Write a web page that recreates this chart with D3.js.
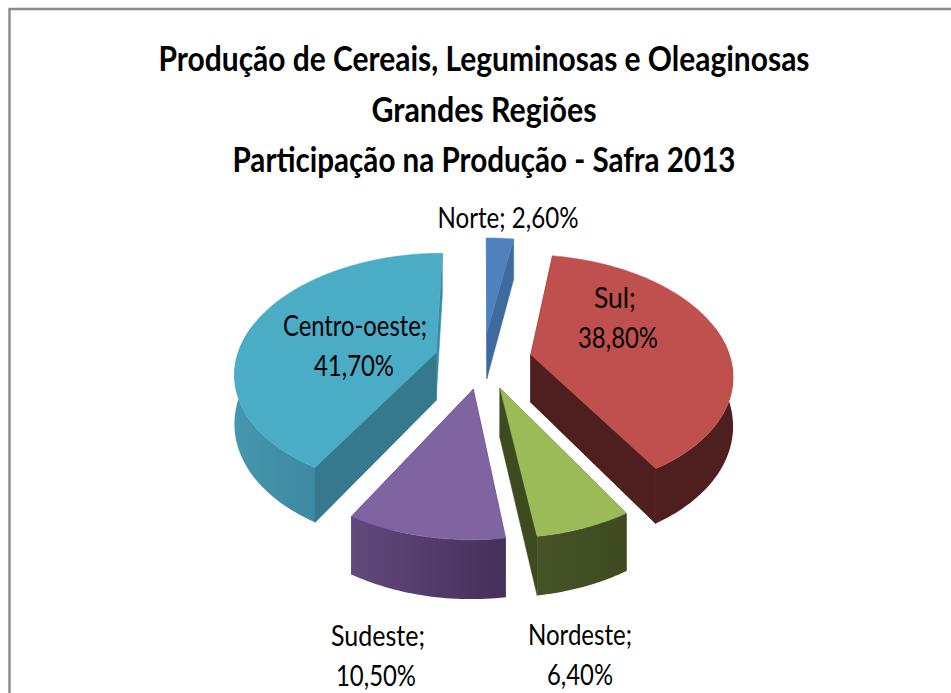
<!DOCTYPE html>
<html><head><meta charset="utf-8">
<style>html,body{margin:0;padding:0;background:#fff;overflow:hidden}svg{display:block}text{font-family:Lato,"Open Sans",sans-serif;fill:#000}</style>
<script src="https://cdn.jsdelivr.net/npm/d3@7/dist/d3.min.js"></script>
</head><body><div id="c"></div>
<script>
const titleLines = ["Produção de Cereais, Leguminosas e Oleaginosas","Grandes Regiões","Participação na Produção - Safra 2013"];
const regions = ["Norte","Sul","Nordeste","Sudeste","Centro-oeste"];
const shares = [2.6,38.8,6.4,10.5,41.7];
const shareLabels = ["2,60%","38,80%","6,40%","10,50%","41,70%"];
const topColors = ["#4f81bd","#c0504d","#9bbb59","#8064a2","#4bacc6"];
const wallFrom = ["#3f6a9e","#4e1f1e","#465326","#62487c","#4596ae"];
const wallTo = ["#3f6a9e","#4e1f1e","#3e4a20","#44305a","#3d8aa2"];
const cutColors = ["#4f81bd","#4e1f1e","#3e4a20","#44305a","#37798c"];
const endCutColors = ["#3f6a9e","#4e1f1e","#3e4a20","#44305a","#3f8aa2"];

const W=951,H=693;
const cx=483,cy=360,R=200,tilt=0.585,persp=0.155,depth=48,explode=49;
const svg=d3.select("#c").append("svg").attr("width",W).attr("height",H);
const defs=svg.append("defs");

svg.append("path").attr("d",d3.line()([[9.5,H],[9.5,9],[W,9]])).attr("fill","none").attr("stroke","#8a8a8a").attr("stroke-width",2.4);

const titleFmt=[{y:71,w:651},{y:122,w:225},{y:172,w:503}];
svg.selectAll("text.title").data(titleLines).join("text").attr("class","title")
  .attr("x",484).attr("y",(d,i)=>titleFmt[i].y).attr("text-anchor","middle")
  .attr("font-size",35).attr("font-weight",700)
  .attr("textLength",(d,i)=>titleFmt[i].w).attr("lengthAdjust","spacingAndGlyphs").text(d=>d);

const arcs=d3.pie().sort(null).startAngle(0).endAngle(2*Math.PI)(shares);
const line=d3.line();
const project=(gx,gy,z)=>{const s=1/(1-persp*gy/R);return [cx+gx*s,cy+(tilt*gy+z)*s];};
const slices=arcs.map((a,i)=>{
  const mid=(a.startAngle+a.endAngle)/2;
  const ox=explode*Math.sin(mid),oy=-explode*Math.cos(mid);
  const at=(t,r,z)=>project(ox+r*Math.sin(t),oy-r*Math.cos(t),z);
  const n=Math.max(4,Math.ceil((a.endAngle-a.startAngle)/0.02));
  const ts=d3.range(n+1).map(j=>a.startAngle+(a.endAngle-a.startAngle)*j/n);
  return {i,a,at,ts};
});
const order=[0,1,4,2,3];
order.forEach(idx=>{
  const {i,a,at,ts}=slices[idx];
  const g=svg.append("g");
  const gid="wall"+i;
  const lg=defs.append("linearGradient").attr("id",gid).attr("x1",0).attr("x2",1).attr("y1",0).attr("y2",0);
  lg.append("stop").attr("offset",0).attr("stop-color",wallFrom[i]);
  lg.append("stop").attr("offset",1).attr("stop-color",wallTo[i]);
  const front=ts.filter(t=>-Math.cos(t)>-0.25);
  const drawCut=(t,col)=>g.append("path").attr("d",line([at(t,0,0),at(t,R,0),at(t,R,depth),at(t,0,depth)])+"Z").attr("fill",col).attr("stroke",col).attr("stroke-width",.5);
  drawCut(a.startAngle,cutColors[i]);
  drawCut(a.endAngle,endCutColors[i]);
  if(front.length>1){
    const pts=front.map(t=>at(t,R,0)).concat(front.slice().reverse().map(t=>at(t,R,depth)));
    g.append("path").attr("d",line(pts)+"Z").attr("fill",`url(#${gid})`);
  }
  if(i===1) drawCut(a.endAngle,endCutColors[i]);
  if(i===4) drawCut(a.startAngle,cutColors[i]);
  const topPts=[at(a.startAngle,0,0)].concat(ts.map(t=>at(t,R,0)));
  g.append("path").attr("d",line(topPts)+"Z").attr("fill",topColors[i]).attr("stroke",topColors[i]).attr("stroke-width",.5);
});

const labelFmt=[
 [{x:508,y:228,w:141,t:d=>regions[0]+"; "+shareLabels[0]}],
 [{x:615,y:308,w:42,t:()=>regions[1]+";"},{x:618,y:348,w:80,t:()=>shareLabels[1]}],
 [{x:580,y:645,w:104,t:()=>regions[2]+";"},{x:580,y:685,w:66,t:()=>shareLabels[2]}],
 [{x:378,y:646,w:94,t:()=>regions[3]+";"},{x:376,y:686,w:80,t:()=>shareLabels[3]}],
 [{x:355,y:336,w:144,t:()=>regions[4]+";"},{x:354,y:376,w:80,t:()=>shareLabels[4]}]
];
labelFmt.flat().forEach(l=>{
  svg.append("text").attr("x",l.x).attr("y",l.y).attr("text-anchor","middle").attr("font-size",29)
    .attr("textLength",l.w).attr("lengthAdjust","spacingAndGlyphs").text(l.t());
});
</script></body></html>
